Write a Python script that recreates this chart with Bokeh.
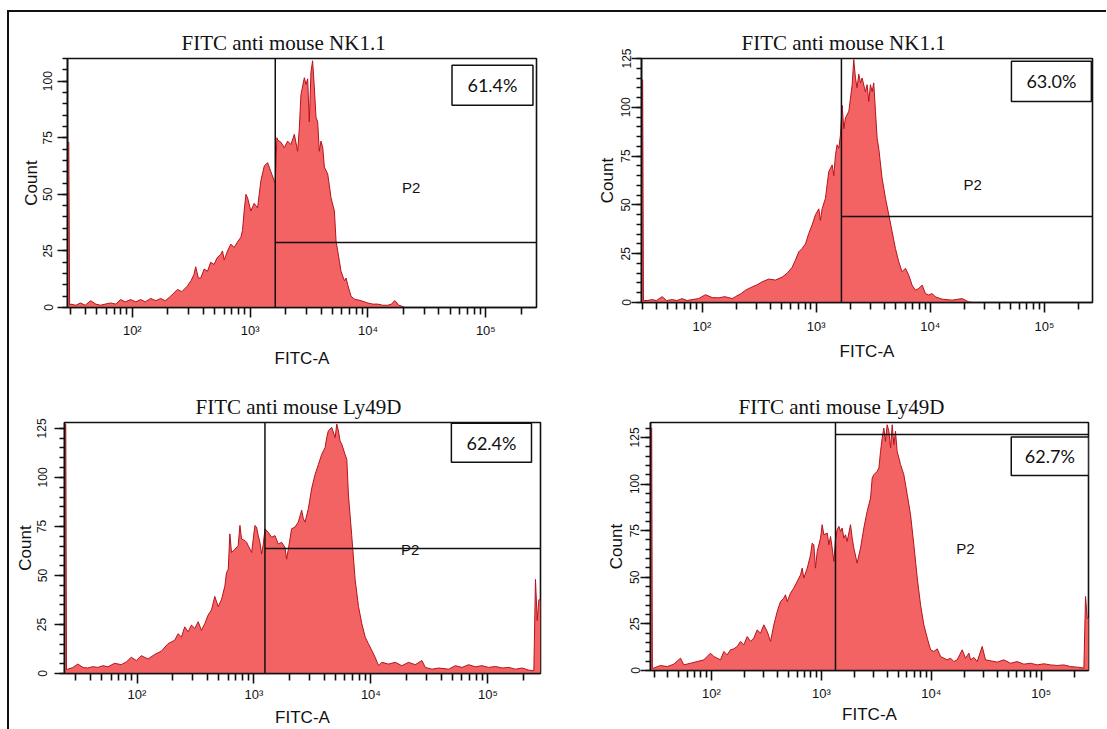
import numpy as np
from bokeh.plotting import figure
from bokeh.models import Range1d, FixedTicker, SingleIntervalTicker, Span, BoxAnnotation, Label
from bokeh.layouts import row, column
from bokeh.embed import file_html
from bokeh.resources import INLINE

# ---------------- data ----------------
titles = ["FITC anti mouse NK1.1", "FITC anti mouse NK1.1",
          "FITC anti mouse Ly49D", "FITC anti mouse Ly49D"]
percent_labels = ["61.4%", "63.0%", "62.4%", "62.7%"]
gate_label = "P2"
x_tick_labels = {1e2: "10\u00b2", 1e3: "10\u00b3", 1e4: "10\u2074", 1e5: "10\u2075"}

# gate threshold (log10 FITC-A) and gate marker height (count)
gate_log10 = [3.213, 3.221, 3.094, 3.128]
gate_count = [28.7, 44.0, 63.8, 126.6]
y_max = [110, 125, 128, 133]

# histogram 1: NK1.1 (top left) -- log10(FITC-A), count
nk11_a_log10 = [1.455, 1.461, 1.468, 1.476, 1.52, 1.56, 1.6, 1.646, 1.69, 1.73, 1.77, 1.816, 1.86, 1.90,
                1.94, 1.986, 2.03, 2.07, 2.11, 2.156, 2.2, 2.24, 2.28, 2.326, 2.383, 2.42, 2.468, 2.5,
                2.524, 2.538, 2.56, 2.581, 2.61, 2.638, 2.665, 2.694, 2.72, 2.751, 2.765, 2.78, 2.808,
                2.836, 2.864, 2.893, 2.921, 2.935, 2.949, 2.964, 2.978, 3.006, 3.034, 3.063, 3.091,
                3.12, 3.148, 3.176, 3.204, 3.213, 3.227, 3.233, 3.261, 3.29, 3.318, 3.346, 3.375,
                3.403, 3.417, 3.431, 3.46, 3.474, 3.488, 3.502, 3.516, 3.53, 3.545, 3.559, 3.573,
                3.587, 3.601, 3.616, 3.63, 3.658, 3.672, 3.686, 3.715, 3.729, 3.743, 3.757, 3.771,
                3.8, 3.814, 3.828, 3.856, 3.885, 3.941, 3.998, 4.04, 4.083, 4.125, 4.168, 4.2, 4.225,
                4.239, 4.26, 4.282, 4.31, 4.35, 5.43]
nk11_a_count = [73, 73, 1, 1.5, 1, 2, 1, 3, 1.5, 1, 1.5, 2, 1.5, 3.5,
                2.5, 3.5, 2.5, 3.5, 2.5, 4, 3, 4, 3, 5, 8, 7, 9.5, 12,
                14.7, 18, 13, 13, 17, 16, 20, 19, 22, 23.5, 25, 21, 25,
                28, 26.5, 29, 31, 34, 42.6, 50, 48.5, 42.6, 46, 44, 56,
                62.5, 64, 60, 56, 55, 75, 74, 73, 70.6, 73.5, 72, 76.5,
                69, 79, 94, 101.5, 98.5, 101, 82, 104, 109, 97, 84, 82,
                69, 73.5, 70.6, 62, 59, 54, 48.5, 42.6, 29.4, 25, 20.6, 16,
                11.8, 13, 10, 5, 3.7, 3, 2, 1.5, 1.5, 1, 1, 1.5, 3,
                2.5, 1, 0.7, 0, 0, 0]

# histogram 2: NK1.1 (top right)
nk11_b_log10 = [1.474, 1.48, 1.487, 1.52, 1.563, 1.6, 1.651, 1.69, 1.739, 1.78, 1.826, 1.87, 1.914, 1.97,
                2.03, 2.09, 2.147, 2.2, 2.264, 2.293, 2.34, 2.381, 2.439, 2.48, 2.527, 2.585, 2.643,
                2.702, 2.746, 2.789, 2.818, 2.848, 2.877, 2.906, 2.935, 2.964, 2.994, 3.023, 3.037,
                3.052, 3.081, 3.11, 3.14, 3.154, 3.169, 3.183, 3.198, 3.213, 3.227, 3.242, 3.256,
                3.286, 3.315, 3.329, 3.344, 3.358, 3.373, 3.388, 3.402, 3.431, 3.446, 3.461, 3.475,
                3.49, 3.504, 3.519, 3.534, 3.548, 3.577, 3.607, 3.636, 3.665, 3.694, 3.723, 3.752,
                3.782, 3.811, 3.84, 3.869, 3.898, 3.928, 3.957, 3.986, 4.015, 4.044, 4.103, 4.19,
                4.278, 4.336, 4.366, 5.42]
nk11_b_count = [114, 114, 1, 1, 1.5, 1, 3, 1, 1.5, 1, 2, 1, 1.5, 2,
                4, 2.5, 2.4, 3, 2, 3, 4.5, 6.3, 8, 9, 10.6, 12, 11.5,
                13, 15, 18, 21.7, 26, 27.7, 30, 35.4, 39.7, 45, 48, 42,
                48, 53.4, 67, 70.5, 65, 75.7, 80.8, 79, 86, 101, 89, 94.5,
                98, 111.6, 124.5, 115, 110, 117, 112.5, 115, 108, 111.6, 103, 111.6,
                108, 112.5, 98, 84, 79, 63.7, 53.4, 44.9, 36.3, 27.7, 20.9, 15.8,
                17.5, 14, 8.9, 6.3, 7.2, 8.9, 4.6, 3.8, 4.6, 2.9, 1.7, 1.2,
                2, 0.3, 0, 0]

# histogram 3: Ly49D (bottom left)
ly49d_a_log10 = [1.385, 1.391, 1.397, 1.409, 1.45, 1.494, 1.54, 1.58, 1.62, 1.666, 1.71, 1.751, 1.808,
                 1.866, 1.91, 1.951, 1.994, 2.037, 2.094, 2.151, 2.208, 2.265, 2.323, 2.351, 2.38,
                 2.408, 2.437, 2.465, 2.494, 2.523, 2.551, 2.58, 2.608, 2.637, 2.665, 2.694, 2.722,
                 2.751, 2.765, 2.78, 2.794, 2.808, 2.837, 2.865, 2.88, 2.894, 2.922, 2.937, 2.951,
                 2.98, 2.994, 3.008, 3.022, 3.037, 3.051, 3.065, 3.08, 3.094, 3.122, 3.151, 3.18,
                 3.208, 3.237, 3.265, 3.279, 3.294, 3.322, 3.351, 3.379, 3.408, 3.422, 3.437, 3.465,
                 3.494, 3.522, 3.551, 3.579, 3.608, 3.622, 3.636, 3.665, 3.694, 3.708, 3.722, 3.736,
                 3.751, 3.779, 3.794, 3.808, 3.836, 3.865, 3.894, 3.922, 3.951, 3.979, 4.008, 4.036,
                 4.065, 4.093, 4.151, 4.208, 4.265, 4.322, 4.379, 4.436, 4.465, 4.522, 4.579, 4.665,
                 4.722, 4.779, 4.836, 4.893, 4.95, 5.007, 5.065, 5.122, 5.179, 5.236, 5.293, 5.35,
                 5.393, 5.407, 5.422, 5.436, 5.45]
ly49d_a_count = [127, 127, 2, 2.2, 3, 4.8, 3, 2.8, 3.5, 3.1, 4, 3.4, 5.2,
                 4.5, 6, 8.3, 6.6, 9.1, 7.4, 9.7, 11.4, 15.2, 17, 20.3, 18.6,
                 23.8, 21.2, 24.7, 23, 26.4, 22, 25.5, 29.8, 32.4, 39.3, 34.1, 37.6,
                 44.5, 51.4, 53.1, 71.2, 61.7, 63.4, 65.2, 75.5, 68.6, 67.8, 66.9, 65.2,
                 61.7, 68.6, 75.5, 74.7, 70.3, 66.9, 60.9, 66, 73.8, 72, 69.5, 70.3,
                 66, 66.9, 64.3, 58.3, 63.4, 73.8, 74.7, 77.2, 83.3, 79, 77.2, 84.1,
                 94.5, 101.4, 106.6, 111.7, 115.2, 120.3, 123.8, 125.5, 120.3, 127.2, 123.8, 118.6,
                 116.9, 111.7, 109.1, 91, 70.3, 47.9, 34.1, 25.5, 18.6, 15.2, 11.7, 8.3,
                 4, 5.7, 4.8, 5.7, 4, 5.7, 4.5, 6.6, 3.1, 2.2, 2.8, 2.2,
                 4, 3.1, 4.5, 3.4, 4, 3.1, 3.6, 2.8, 3.1, 2.2, 2.8, 1.7,
                 1.4, 48, 27, 37.6, 37.6]

# histogram 4: Ly49D (bottom right)
ly49d_b_log10 = [1.45, 1.456, 1.462, 1.475, 1.536, 1.597, 1.657, 1.718, 1.748, 1.809, 1.87, 1.93, 1.961,
                 1.991, 2.021, 2.052, 2.082, 2.112, 2.143, 2.173, 2.203, 2.234, 2.264, 2.294, 2.325,
                 2.355, 2.385, 2.416, 2.446, 2.476, 2.507, 2.537, 2.552, 2.567, 2.598, 2.628, 2.658,
                 2.673, 2.689, 2.719, 2.749, 2.78, 2.81, 2.825, 2.84, 2.871, 2.901, 2.916, 2.931,
                 2.946, 2.962, 2.992, 3.007, 3.022, 3.053, 3.068, 3.083, 3.098, 3.113, 3.128, 3.143,
                 3.159, 3.174, 3.189, 3.204, 3.219, 3.234, 3.265, 3.28, 3.295, 3.325, 3.356, 3.386,
                 3.416, 3.447, 3.462, 3.477, 3.507, 3.523, 3.538, 3.553, 3.568, 3.583, 3.598, 3.614,
                 3.629, 3.644, 3.659, 3.674, 3.689, 3.705, 3.72, 3.75, 3.781, 3.811, 3.841, 3.872,
                 3.902, 3.932, 3.963, 3.993, 4.023, 4.054, 4.084, 4.114, 4.144, 4.175, 4.205, 4.235,
                 4.281, 4.311, 4.342, 4.357, 4.387, 4.417, 4.463, 4.493, 4.539, 4.599, 4.66, 4.721,
                 4.781, 4.842, 4.903, 4.963, 5.024, 5.085, 5.145, 5.206, 5.267, 5.327, 5.388, 5.403,
                 5.418, 5.433]
ly49d_b_count = [130, 130, 1, 1.3, 2.7, 2.1, 3.4, 6.6, 3, 3.9, 4.8, 5.7, 7.5,
                 9.3, 7.5, 6.6, 5.7, 10.2, 8.4, 11.1, 11.6, 12.9, 15.6, 13.8, 18.2,
                 15.6, 17.4, 21.8, 20, 24.5, 20.9, 15.6, 20, 24.5, 31.7, 37, 38.8,
                 40.6, 37, 41.5, 44.2, 47.8, 51.3, 54.9, 49.6, 54.9, 62, 68.3, 67.4,
                 54.9, 63.9, 71, 78.2, 72.8, 73.7, 67.4, 71.9, 65.7, 58.5, 70, 75.5,
                 77.3, 74.6, 76.4, 71, 72.8, 69.2, 78.2, 71, 65.7, 57.6, 65.7, 76.4,
                 85.3, 92.5, 103.2, 105, 106.8, 108.6, 117.5, 124.7, 130, 122.9, 131.8, 128.3,
                 119.3, 131.8, 121.1, 128.3, 117.5, 114, 110.4, 105, 94.3, 83.5, 67.4, 49.6,
                 35.2, 24.5, 17.4, 11.1, 10.2, 11.6, 7.5, 6.6, 5.7, 6.6, 4.8, 5.7,
                 11.1, 6.6, 9.3, 5.7, 7, 4.8, 12.9, 5.7, 5.2, 4.5, 5.7, 3.9,
                 4.8, 3.4, 3.9, 3, 3.6, 3, 2.7, 3, 2.1, 1.8, 1.3, 39.7,
                 28, 28]

hist_log10 = [nk11_a_log10, nk11_b_log10, ly49d_a_log10, ly49d_b_log10]
hist_count = [nk11_a_count, nk11_b_count, ly49d_a_count, ly49d_b_count]

# ---------------- layout / styling (not data) ----------------
FILL = "#F36363"
EDGE = "#B3141C"
INK = "#111111"

geom = [
    dict(xlog=(1.45, 5.43), box=(4.713, 5.40, 89.4, 107.0), p2=(4.367, 53.0),
         fw=469, fh=249, bl=58, br=24, bt=46, bb=65, toff=114, ytso=5, ylso=0, xtso=5, xlso=8),
    dict(xlog=(1.47, 5.42), box=(4.71, 5.41, 103.0, 123.6), p2=(4.37, 60.5),
         fw=451, fh=244, bl=81, br=14, bt=45, bb=71, toff=100, ytso=1, ylso=2, xtso=6, xlso=5),
    dict(xlog=(1.38, 5.45), box=(4.688, 5.373, 107.7, 127.6), p2=(4.336, 63.1),
         fw=476, fh=251, bl=55, br=20, bt=50, bb=55, toff=131, ytso=8, ylso=0, xtso=3, xlso=3),
    dict(xlog=(1.445, 5.43), box=(4.727, 5.43, 104.6, 125.2), p2=(4.311, 65.3),
         fw=438, fh=248, bl=90, br=18, bt=45, bb=63, toff=88, ytso=1, ylso=2, xtso=5, xlso=1),
]

SANS = "Liberation Sans"


def make_panel(i):
    g = geom[i]
    x0, x1 = 10 ** g["xlog"][0], 10 ** g["xlog"][1]
    p = figure(x_axis_type="log", x_range=Range1d(x0, x1), y_range=Range1d(0, y_max[i]),
               frame_width=g["fw"], frame_height=g["fh"],
               min_border_left=g["bl"], min_border_right=g["br"],
               min_border_top=g["bt"], min_border_bottom=g["bb"],
               output_backend="svg", toolbar_location=None, tools="")
    p.background_fill_color = "white"
    p.border_fill_color = "white"
    p.outline_line_color = INK
    p.outline_line_width = 1.6
    p.xgrid.visible = False
    p.ygrid.visible = False

    # title
    p.title.text = titles[i]
    p.title.align = "left"
    p.title.offset = g["toff"]
    p.title.standoff = 7
    p.title.text_font = "Liberation Serif"
    p.title.text_font_style = "normal"
    p.title.text_font_size = "21px"
    p.title.text_color = INK

    # histogram
    xs = 10 ** np.array(hist_log10[i])
    ys = np.array(hist_count[i], dtype=float)
    p.varea(x=xs, y1=np.zeros_like(ys), y2=ys, fill_color=FILL, fill_alpha=1.0)
    p.line(xs, ys, line_color=EDGE, line_width=1)

    # gate
    gx = 10 ** gate_log10[i]
    p.add_layout(Span(location=gx, dimension="height", line_color=INK, line_width=1.5))
    p.segment(x0=[gx], y0=[gate_count[i]], x1=[x1], y1=[gate_count[i]], line_color=INK, line_width=1.5)

    # percentage box
    bl, br, bb, bt = g["box"]
    p.add_layout(BoxAnnotation(left=10 ** bl, right=10 ** br, bottom=bb, top=bt,
                               fill_color="white", fill_alpha=1.0,
                               line_color=INK, line_width=1.5, line_alpha=1.0))
    p.add_layout(Label(x=10 ** ((bl + br) / 2), y=(bb + bt) / 2, text=percent_labels[i],
                       text_align="center", text_baseline="middle",
                       text_font="Lato", text_font_size="18px", text_color=INK))
    p.add_layout(Label(x=10 ** g["p2"][0], y=g["p2"][1], text=gate_label,
                       text_align="center", text_baseline="middle",
                       text_font=SANS, text_font_size="15px", text_color=INK))

    # x axis
    xa = p.xaxis[0]
    minor = [m * 10 ** k for k in range(1, 6) for m in range(2, 10) if x0 <= m * 10 ** k <= x1]
    xa.ticker = FixedTicker(ticks=[1e2, 1e3, 1e4, 1e5], minor_ticks=minor)
    xa.major_label_overrides = x_tick_labels
    xa.axis_label = "FITC-A"
    xa.axis_label_text_font = SANS
    xa.axis_label_text_font_style = "normal"
    xa.axis_label_text_font_size = "17px"
    xa.axis_label_text_color = INK
    xa.axis_label_standoff = g["xlso"]
    xa.major_label_text_font = SANS
    xa.major_label_text_font_size = "13px"
    xa.major_label_text_color = INK
    xa.major_label_standoff = g["xtso"]

    # y axis
    ya = p.yaxis[0]
    ya.ticker = SingleIntervalTicker(interval=25, num_minor_ticks=5)
    ya.axis_label = "Count"
    ya.axis_label_text_font = SANS
    ya.axis_label_text_font_style = "normal"
    ya.axis_label_text_font_size = "17px"
    ya.axis_label_text_color = INK
    ya.axis_label_standoff = g["ylso"]
    ya.major_label_text_font = SANS
    ya.major_label_text_font_size = "12px"
    ya.major_label_text_color = INK
    ya.major_label_orientation = "vertical"
    ya.major_label_standoff = g["ytso"]

    for ax, mino in ((xa, 7), (ya, 5)):
        ax.axis_line_color = INK
        ax.axis_line_width = 1.6
        ax.major_tick_line_color = INK
        ax.major_tick_line_width = 1.6
        ax.minor_tick_line_color = INK
        ax.minor_tick_line_width = 1.6
        ax.major_tick_in = 0
        ax.major_tick_out = 10
        ax.minor_tick_in = 0
        ax.minor_tick_out = mino
    return p


panels = [make_panel(i) for i in range(4)]
layout = column(row(panels[0], panels[1]), row(panels[2], panels[3]),
                margin=(10, 0, 0, 7),
                styles={"border-top": "2px solid #111", "border-left": "2px solid #111"})

open("out.html", "w").write(file_html(layout, INLINE))
